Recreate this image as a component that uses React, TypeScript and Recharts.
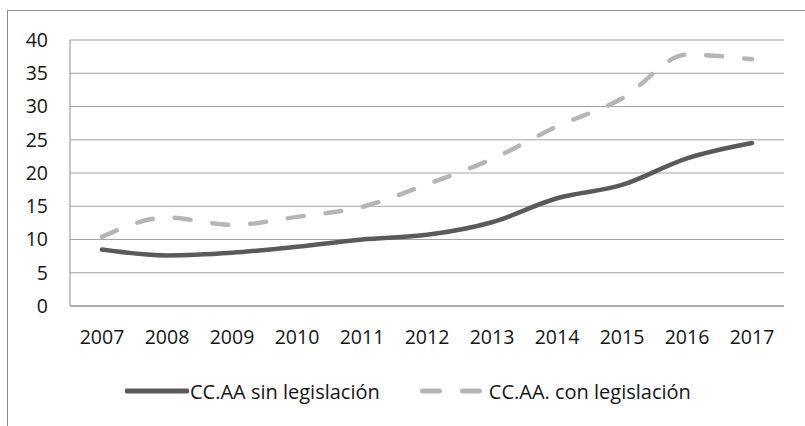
import { CartesianGrid, Legend, Line, LineChart, XAxis, YAxis } from "recharts";

const years = ["2007", "2008", "2009", "2010", "2011", "2012", "2013", "2014", "2015", "2016", "2017"];
const sinLegislacion = [8.5, 7.6, 8.0, 8.9, 10.0, 10.7, 12.6, 16.2, 18.2, 22.2, 24.5];
const conLegislacion = [10.4, 13.3, 12.2, 13.4, 14.9, 18.3, 22.1, 27.0, 31.2, 37.8, 37.1];
const yTicks = [0, 5, 10, 15, 20, 25, 30, 35, 40];

const SIN_NAME = "CC.AA sin legislación";
const CON_NAME = "CC.AA. con legislación";

const data = years.map((year, i) => ({
  year,
  sin: sinLegislacion[i],
  con: conLegislacion[i],
}));

const font = "'Open Sans', sans-serif";
const textColor = "#141414";
const darkLine = "#5a5a5a";
const lightLine = "#b5b5b5";

function ChartLegend() {
  return (
    <div
      style={{
        display: "flex",
        alignItems: "center",
        height: 70,
        paddingLeft: 117,
        fontFamily: font,
        fontSize: 20,
        color: textColor,
      }}
    >
      <svg width={64} height={10} style={{ display: "block" }}>
        <line x1={2} y1={5} x2={62} y2={5} stroke={darkLine} strokeWidth={5} strokeLinecap="round" />
      </svg>
      <span style={{ marginLeft: 1 }}>{SIN_NAME}</span>
      <svg width={64} height={10} style={{ display: "block", marginLeft: 40 }}>
        <line
          x1={2.5}
          y1={5}
          x2={62}
          y2={5}
          stroke={lightLine}
          strokeWidth={5}
          strokeLinecap="round"
          strokeDasharray="17 23"
        />
      </svg>
      <span style={{ marginLeft: 5 }}>{CON_NAME}</span>
    </div>
  );
}

export default function App() {
  return (
    <div
      style={{
        position: "absolute",
        left: 7,
        top: 10,
        width: 798,
        height: 416,
        borderLeft: "1px solid #8a8a8a",
        borderTop: "1px solid #8a8a8a",
        background: "#fff",
      }}
    >
      <LineChart
        width={797}
        height={415}
        data={data}
        margin={{ top: 29, right: 21, left: 0, bottom: 0 }}
      >
        <CartesianGrid horizontal vertical={false} stroke="#a3a3a3" strokeWidth={1} />
        <XAxis
          dataKey="year"
          height={50}
          padding={{ left: 32, right: 32 }}
          tickLine={false}
          tickSize={0}
          tickMargin={24}
          axisLine={{ stroke: "#8f8f8f" }}
          tick={{ fill: textColor, fontFamily: font, fontSize: 19.5 }}
          interval={0}
        />
        <YAxis
          width={62}
          domain={[0, 40]}
          ticks={yTicks}
          tickLine={false}
          tickSize={0}
          tickMargin={22}
          axisLine={{ stroke: "#8f8f8f" }}
          tick={{ fill: textColor, fontFamily: font, fontSize: 19.5 }}
        />
        <Legend verticalAlign="bottom" height={70} content={() => <ChartLegend />} />
        <Line
          name={SIN_NAME}
          dataKey="sin"
          type="monotone"
          stroke={darkLine}
          strokeWidth={4.5}
          strokeLinecap="round"
          dot={false}
          activeDot={false}
          isAnimationActive={false}
        />
        <Line
          name={CON_NAME}
          dataKey="con"
          type="monotone"
          stroke={lightLine}
          strokeWidth={4.5}
          strokeLinecap="round"
          strokeDasharray="16 22"
          dot={false}
          activeDot={false}
          isAnimationActive={false}
        />
      </LineChart>
    </div>
  );
}
